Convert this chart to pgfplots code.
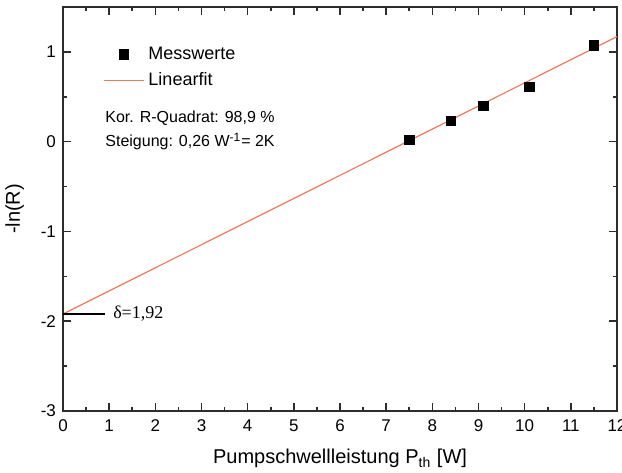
\documentclass[border=0pt]{standalone}
\usepackage{fontspec}
\setmainfont{Liberation Sans}
\newfontfamily\timesf{Liberation Serif}
\usepackage{pgfplots}
\pgfplotsset{compat=1.18}
\definecolor{FitRed}{RGB}{240,120,98}
\definecolor{AxGray}{RGB}{45,45,45}
\pgfplotsset{
  legmark/.style={legend image code/.code={\draw[mark repeat=2,mark phase=2,##1] plot coordinates {(0pt,0pt)(10pt,0pt)(20pt,0pt)};}},
  legline/.style={legend image code/.code={\draw[##1] (0pt,0pt) -- (20pt,0pt);}},
}

\begin{document}
\begin{tikzpicture}
\begin{axis}[
  scale only axis,width=277pt,height=202pt,
  xmin=0,xmax=12,ymin=-3,ymax=1.5,
  xtick={0,1,...,12},ytick={-3,-2,-1,0,1},
  minor x tick num=1,minor y tick num=1,
  tick align=inside,
  major tick length=4pt,minor tick length=2.2pt,
  axis line style={draw=AxGray,line width=1pt},
  every tick/.style={AxGray,line width=0.8pt},
  /pgf/number format/assume math mode=true,
  tick label style={font=\fontsize{8.5}{9}\selectfont},
  xticklabel style={yshift=-1pt},
  xlabel={Pumpschwellleistung P\textsubscript{th} [W]},
  ylabel={-ln(R)},
  label style={font=\fontsize{10}{12}\selectfont},
  xlabel style={at={(axis description cs:0.5,-0.118)},anchor=center},
  ylabel style={at={(axis description cs:-0.087,0.5)},anchor=center},
  legend cell align=left,
  legend style={draw=none,fill=none,at={(rel axis cs:0.072,0.912)},anchor=north west,
    font=\fontsize{9}{10}\selectfont,row sep=1pt,inner sep=0pt},
]
\addplot[only marks,mark=square*,mark size=2.4pt,black,legmark]
  coordinates {(7.5,0.02) (8.4,0.23) (9.1,0.40) (10.1,0.61) (11.5,1.07)};
\addlegendentry{Messwerte}
\addplot[FitRed,line width=0.6pt,legline]
  coordinates {(0,-1.92) (12,1.17)};
\addlegendentry{Linearfit}
\draw[black,line width=0.6pt] (axis cs:0,-1.92) -- (axis cs:0.92,-1.92);
\node[anchor=west,inner sep=0pt,font=\timesf\fontsize{9}{10}\selectfont] at (axis cs:1.08,-1.92) {δ=1,92};
\node[anchor=west,inner sep=0pt,font=\fontsize{8}{9}\selectfont] at (axis cs:0.91,0.26) {Kor. R-Quadrat: 98,9 \%};
\node[anchor=west,inner sep=0pt,font=\fontsize{8}{9}\selectfont] at (axis cs:0.91,0.0) {Steigung: 0,26 W\textsuperscript{-1}= 2K};
\coordinate (bl) at (rel axis cs:0,0);
\coordinate (tr) at (rel axis cs:1,1);
\end{axis}
\pgfresetboundingbox
\useasboundingbox ([shift={(-31.5pt,-31pt)}]bl) rectangle ([shift={(2.5pt,3.5pt)}]tr);
\end{tikzpicture}
\end{document}
